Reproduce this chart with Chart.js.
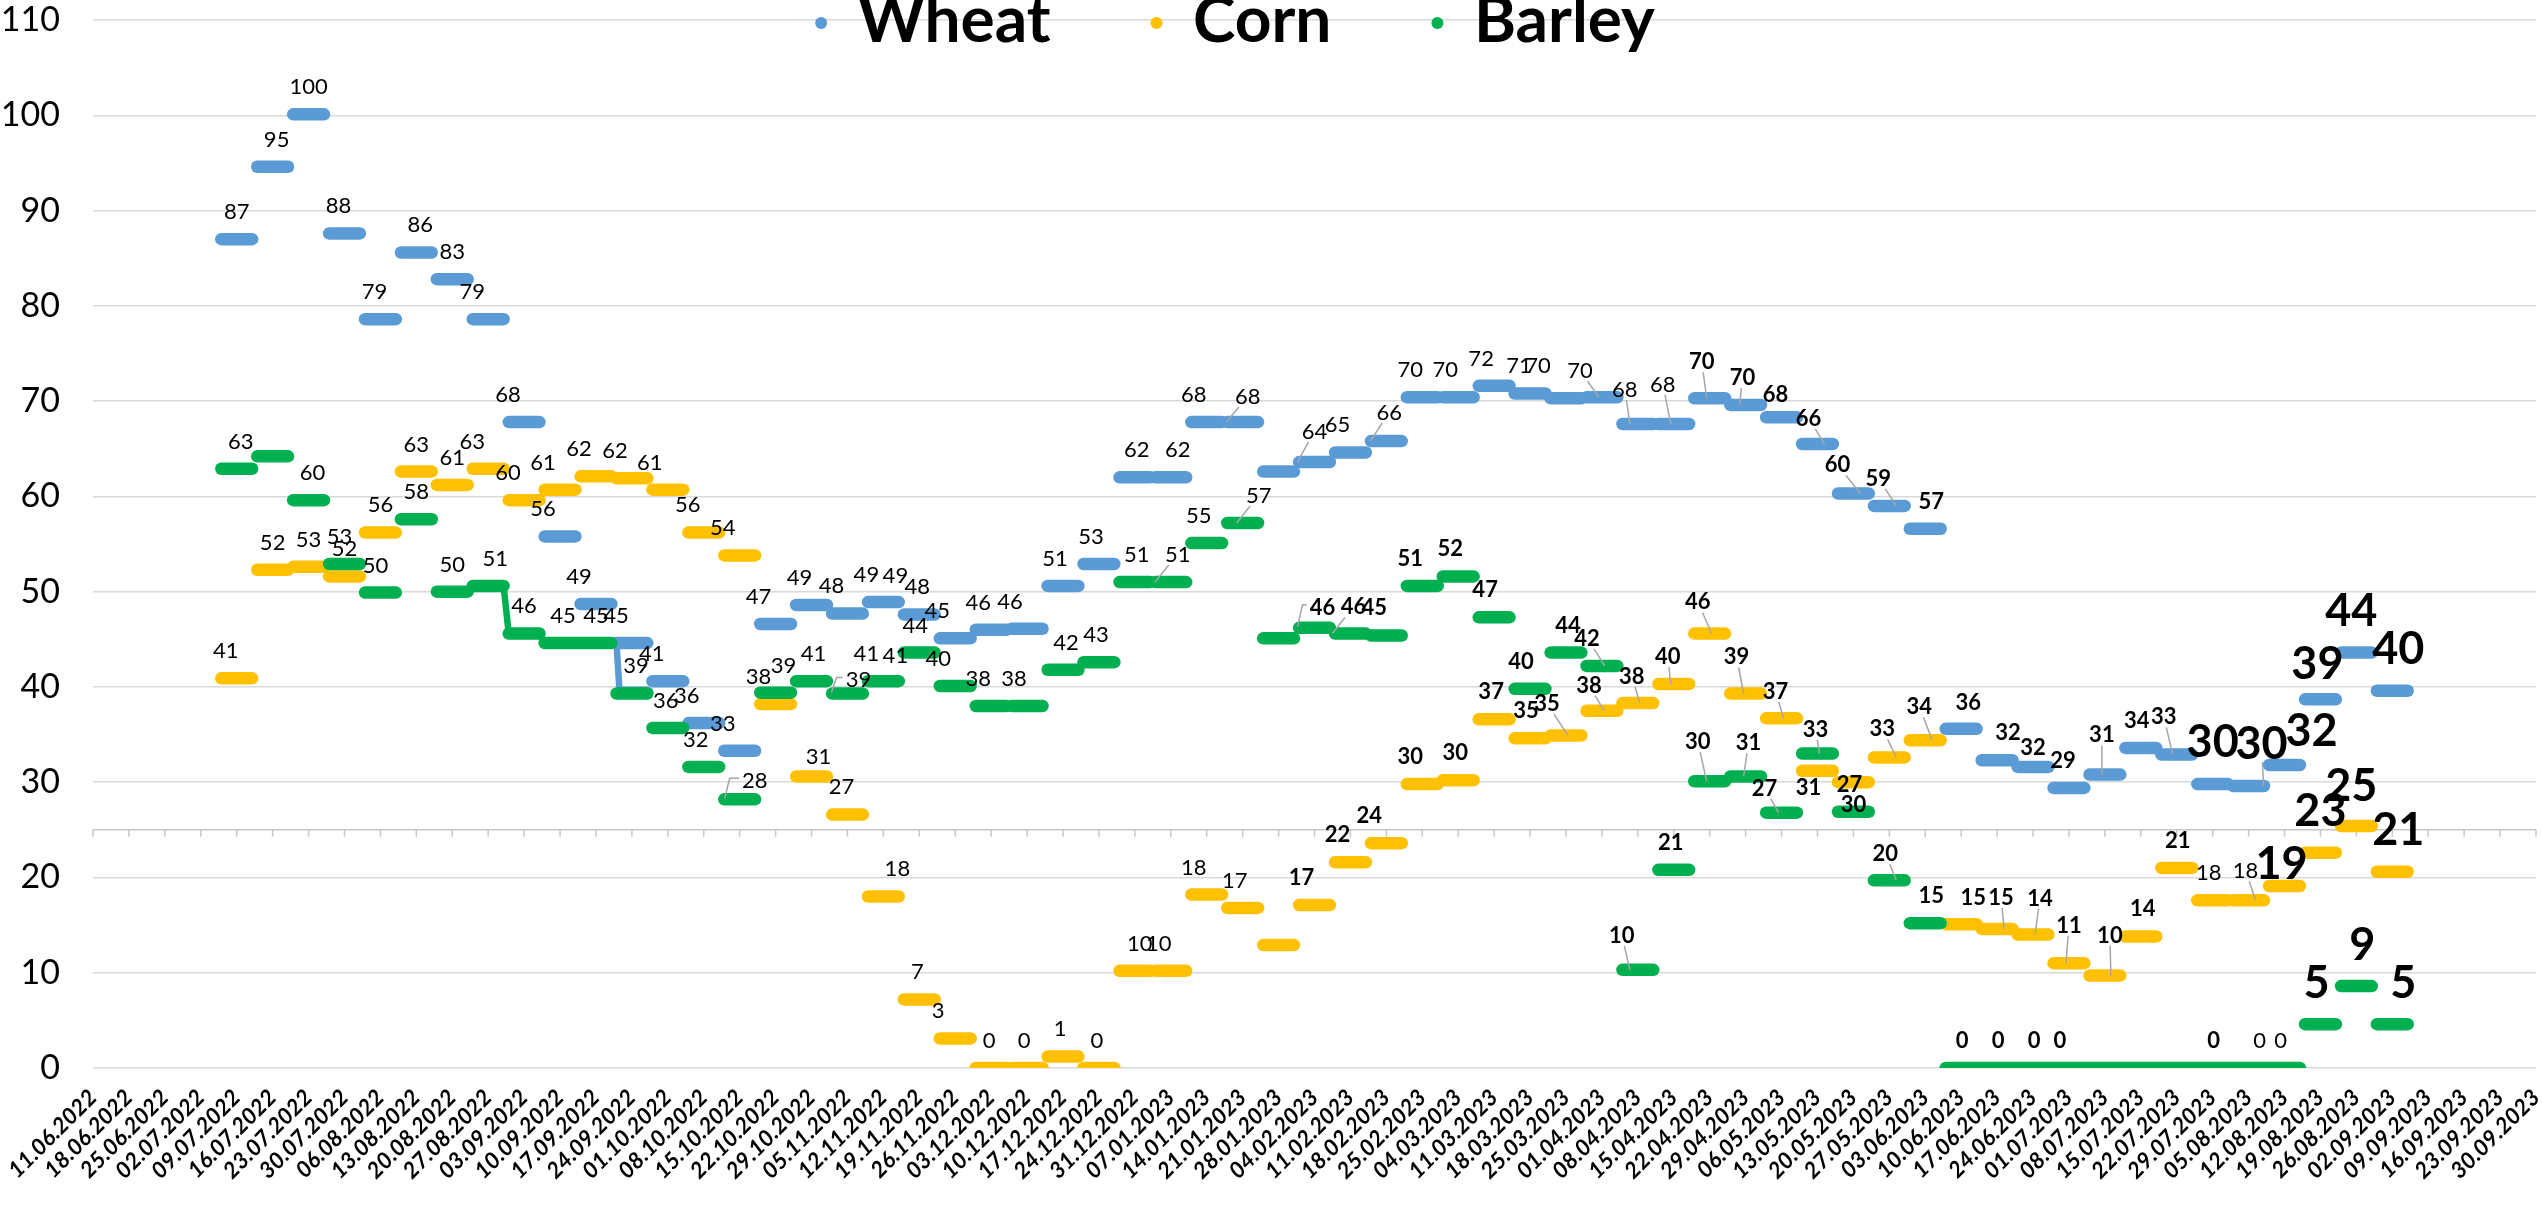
<!DOCTYPE html>
<html><head><meta charset="utf-8">
<script src="https://cdn.jsdelivr.net/npm/chart.js@4.4.1/dist/chart.umd.min.js"></script>
<style>html,body{margin:0;padding:0;background:#fff;overflow:hidden}canvas{display:block}</style>
</head><body>
<canvas id="c" width="2542" height="1218"></canvas>
<script>
// ---------- DATA ----------
const weeks = ['11.06.2022','18.06.2022','25.06.2022','02.07.2022','09.07.2022','16.07.2022','23.07.2022','30.07.2022','06.08.2022','13.08.2022','20.08.2022','27.08.2022','03.09.2022','10.09.2022','17.09.2022','24.09.2022','01.10.2022','08.10.2022','15.10.2022','22.10.2022','29.10.2022','05.11.2022','12.11.2022','19.11.2022','26.11.2022','03.12.2022','10.12.2022','17.12.2022','24.12.2022','31.12.2022','07.01.2023','14.01.2023','21.01.2023','28.01.2023','04.02.2023','11.02.2023','18.02.2023','25.02.2023','04.03.2023','11.03.2023','18.03.2023','25.03.2023','01.04.2023','08.04.2023','15.04.2023','22.04.2023','29.04.2023','06.05.2023','13.05.2023','20.05.2023','27.05.2023','03.06.2023','10.06.2023','17.06.2023','24.06.2023','01.07.2023','08.07.2023','15.07.2023','22.07.2023','29.07.2023','05.08.2023','12.08.2023','19.08.2023','26.08.2023','02.09.2023','09.09.2023','16.09.2023','23.09.2023','30.09.2023'];

const seriesNames = ['Wheat', 'Corn', 'Barley'];

const wheat = [null,null,null,null,
  87.0,94.6,100.1,87.6,78.6,85.6,82.8,78.6,67.8,55.8,48.7,44.6,40.6,36.2,33.3,46.6,48.6,47.7,48.9,47.6,45.1,46.0,46.1,50.6,52.9,
  62.0,62.0,67.8,67.8,62.6,63.6,64.6,65.8,70.4,70.4,71.6,70.8,70.3,70.4,67.6,67.6,70.3,69.6,68.3,65.5,60.3,59.0,56.6,
  35.6,32.3,31.6,29.4,30.8,33.6,32.9,29.8,29.6,31.8,38.7,43.6,39.6,
  null,null,null,null];

const corn = [null,null,null,null,
  40.9,52.3,52.6,51.6,56.2,62.6,61.2,62.9,59.6,60.7,62.1,61.9,60.7,56.2,53.8,38.2,30.6,26.6,18.0,7.2,3.1,0,0,1.2,0,
  10.2,10.2,18.2,16.8,12.9,17.1,21.6,23.6,29.8,30.2,36.6,34.6,34.9,37.5,38.3,40.3,45.6,39.3,36.7,31.2,30.0,32.6,34.4,
  15.1,14.6,14.0,11.0,9.7,13.8,21.0,17.6,17.6,19.1,22.6,25.4,20.6,
  null,null,null,null];

const barley = [null,null,null,null,
  62.9,64.2,59.6,52.9,49.9,57.6,50.0,50.6,45.6,44.6,44.6,39.3,35.7,31.6,28.2,39.4,40.6,39.3,40.6,43.6,40.1,38.0,38.0,41.8,42.6,
  51.0,51.0,55.1,57.2,45.1,46.2,45.6,45.4,50.6,51.6,47.3,39.8,43.6,42.2,10.3,20.8,30.1,30.6,26.8,33.0,26.9,19.7,15.2,
  0,0,0,0,0,0,0,0,0,0,4.6,8.6,4.6,
  null,null,null,null];

// weeks whose daily line continues from the previous week
const barleyJoined = ['03.09.2022','10.09.2022','17.09.2022','17.06.2023','24.06.2023','01.07.2023','08.07.2023','15.07.2023','22.07.2023','29.07.2023','05.08.2023','12.08.2023'];
// a one-day dip in the wheat line
const wheatDip = { week: '24.09.2022', value: 39.4 };
// horizontal axis line crosses the value axis here
const axisCross = 25;

// ---------- LABEL STYLE / PLACEMENT (kept apart from the data) ----------
// '.' none, 'n' normal, 'b' bold, 'H' large bold
const wheatLabelStyle  = '....' + 'n'.repeat(29) + '.' + 'n'.repeat(11) + 'b'.repeat(14) + 'H'.repeat(6) + '....';
const cornLabelStyle   = '....' + 'n'.repeat(29) + '.' + 'b'.repeat(25) + 'nn' + 'HHHH' + '....';
const barleyLabelStyle = '....' + 'n.' + 'n'.repeat(27) + '.' + 'b'.repeat(22) + '...' + 'bnn' + 'HHH' + '....';

// week index: [dx px, dy px above line, leader target dx px, leader kind]
const wheatLabelPos = {4:[0],5:[4],6:[0],7:[-6],8:[-6],9:[4],10:[0],11:[-16],12:[-16],13:[-17],14:[-17],15:[-16],16:[-16],17:[-17],18:[-17],
  19:[-17],20:[-12],21:[-16],22:[-17],23:[-2],24:[-18],25:[-13],26:[-17],27:[-8],28:[-8],29:[2],30:[7],31:[-13],32:[5,26,-16],
  34:[0,31,-17],35:[-13],36:[3,29,-16],37:[-12],38:[-13],39:[-13],40:[-11],41:[-28,33],42:[-22,27,-3],43:[-13,35,-8],44:[-11,40,-3],
  45:[-8,37,-3],46:[-3,28,-6],47:[-6,23],48:[-9,26,7],49:[-16,29,7],50:[-11,28,7],51:[6],52:[7,27],53:[11],54:[0,20],55:[-6],
  56:[-3,40,-3],57:[-4],58:[-13,38,-4],59:[0,43],60:[13,43,15],61:[27,35],62:[-3,36],63:[-5,43],64:[6,43]};
const cornLabelPos = {4:[-11],5:[0],6:[0],7:[0],8:[0],9:[0],10:[0],11:[-16],12:[-16],13:[-17],14:[-17],15:[-17],16:[-18],17:[-16],18:[-17],
  19:[-17],20:[7,20],21:[-6],22:[14],23:[-2],24:[-17],25:[-2],26:[-3],27:[-3],28:[-2],29:[5],30:[-12],31:[-13],32:[-8],
  34:[-13],35:[-13],36:[-17],37:[-12],38:[-3],39:[-3],40:[-4],41:[-19,32,2],42:[-13,26,2],43:[-6,27,2],44:[-6,28,-3],45:[-12,32,2],
  46:[-9,37,-2],47:[-6,27,2],48:[-9,-16],49:[0,-22],50:[-7,29,7],51:[-6,34,7],52:[12,27],53:[4,32,7],54:[7,37,2],55:[0,38,-3],
  56:[5,41,6],57:[2],58:[1],59:[-4],60:[-3,30,7],61:[-3,23],62:[0,43],63:[-5,41],64:[6,43]};
const barleyLabelPos = {4:[4],6:[4],7:[-5],8:[-5],9:[0],10:[0],11:[7],12:[0],13:[3],14:[0],15:[4],16:[-2],17:[-8],18:[15,19,-15,'b'],
  19:[8],20:[2],21:[11,14,-16,'b'],22:[-17],23:[-4],24:[-17],25:[-13],26:[-13],27:[3],28:[-3],29:[2],30:[7,28,-16],31:[-8],32:[16,28,-6],
  34:[8,21,-17,'b'],35:[3,27,-18],36:[-12],37:[-12],38:[-8],39:[-9],40:[-9],41:[2],42:[-15,28,3],43:[-16,35,-8],44:[-3],
  45:[-12,40,-3],46:[3,34,-2],47:[-17,25,-3],48:[-2,25,2],49:[-4],50:[-4,27,7],51:[6],52:[1],53:[1],54:[1],55:[-9],
  59:[1],60:[11],61:[-4],62:[-4,42],63:[6,42],64:[11,42]};
// second label on the last day of a week: [series, week index, dx, dy]
const extraLabels = [['Wheat',22,12,27],['Barley',22,12,26]];

const colors = { Wheat: '#5B9BD5', Corn: '#FFC000', Barley: '#00B050' };

// ---------- BUILD ----------
const HALF = 3; // each weekly value is held for the days around its date
function buildPoints(values, joined, dip) {
  const pts = [];
  for (let k = 0; k < values.length; k++) {
    const v = values[k];
    if (v == null) continue;
    const c = k * 7;
    const isJoined = joined && joined.includes(weeks[k]) && values[k - 1] != null;
    if (!isJoined && pts.length) pts.push({ x: c - HALF - 0.5, y: null });
    if (dip && dip.week === weeks[k]) {
      pts.push({ x: c + HALF, y: v }, { x: c - HALF, y: v }, { x: c - HALF + 0.6, y: dip.value }, { x: c + HALF, y: dip.value });
    } else {
      pts.push({ x: c - HALF, y: v }, { x: c + HALF, y: v });
    }
  }
  return pts;
}

const seriesData = { Wheat: wheat, Corn: corn, Barley: barley };
const labelStyles = { Wheat: wheatLabelStyle, Corn: cornLabelStyle, Barley: barleyLabelStyle };
const labelPos = { Wheat: wheatLabelPos, Corn: cornLabelPos, Barley: barleyLabelPos };

function makeDataset(name, order, joined, dip) {
  return {
    label: name,
    data: buildPoints(seriesData[name], joined, dip),
    borderColor: colors[name], backgroundColor: colors[name],
    borderWidth: 12.5, borderCapStyle: 'round', borderJoinStyle: 'round',
    pointRadius: 0, spanGaps: false, order: order,
    segment: { borderWidth: c => (c.p0.parsed.y === c.p1.parsed.y ? 12.5 : 6.5) }
  };
}

const crossAxisPlugin = {
  id: 'crossAxis',
  beforeDatasetsDraw(chart) {
    const { ctx, chartArea, scales: { x, y } } = chart;
    const yy = y.getPixelForValue(axisCross);
    ctx.save();
    ctx.strokeStyle = '#c8c8c8'; ctx.lineWidth = 1.5;
    ctx.beginPath();
    ctx.moveTo(chartArea.left, yy); ctx.lineTo(chartArea.right, yy);
    x.ticks.forEach(t => { const px = x.getPixelForValue(t.value); ctx.moveTo(px, yy); ctx.lineTo(px, yy + 7); });
    ctx.stroke();
    ctx.restore();
  }
};

function fontFor(code) { return code === 'H' ? { w: 'bold', s: 45 } : code === 'b' ? { w: 'bold', s: 22 } : { w: 'normal', s: 22 }; }

const valueLabelPlugin = {
  id: 'valueLabels',
  afterDatasetsDraw(chart) {
    const { ctx, scales: { x, y } } = chart;
    ctx.save();
    ctx.textAlign = 'center'; ctx.textBaseline = 'alphabetic';
    const draw = (name, k, p, code) => {
      const v = seriesData[name][k];
      const f = fontFor(code);
      const dx = p[0] || 0;
      const dy = p[1] != null ? p[1] : (code === 'H' ? 42 : 28);
      const tx = x.getPixelForValue(k * 7), sy = y.getPixelForValue(v);
      const lx = tx + dx, ly = sy - dy;
      const text = String(Math.round(v));
      ctx.font = `${f.w} ${f.s}px Lato`;
      const w = ctx.measureText(text).width, hh = f.s * 0.36;
      if (p[2] != null) {
        const gx = tx + p[2], gy = sy;
        ctx.strokeStyle = '#a6a6a6'; ctx.lineWidth = 1.5;
        ctx.beginPath();
        if (p[3] === 'b') {
          ctx.moveTo(lx - w / 2 - 3, ly - 2); ctx.lineTo(gx + 5, ly - 2); ctx.lineTo(gx, gy - 1);
        } else {
          const ddx = gx - lx, ddy = gy - ly;
          const t = Math.min(Math.abs(ddx) > 0.01 ? (w / 2 + 2) / Math.abs(ddx) : 1e9, Math.abs(ddy) > 0.01 ? (hh + 3) / Math.abs(ddy) : 1e9);
          if (t < 1) { ctx.moveTo(lx + ddx * t, ly + ddy * t); ctx.lineTo(gx, gy); }
        }
        ctx.stroke();
      }
      ctx.fillStyle = '#000';
      ctx.fillText(text, lx, ly + hh);
    };
    seriesNames.forEach(name => {
      const st = labelStyles[name], pos = labelPos[name], vals = seriesData[name];
      for (let k = 0; k < vals.length; k++) {
        const code = st[k];
        if (!code || code === '.' || vals[k] == null) continue;
        draw(name, k, pos[k] || [0], code);
      }
    });
    extraLabels.forEach(([name, k, dx, dy]) => draw(name, k, [dx, dy], labelStyles[name][k]));
    ctx.restore();
  }
};

const legendPlugin = {
  id: 'topLegend',
  afterDraw(chart) {
    const ctx = chart.ctx;
    ctx.save();
    ctx.font = 'bold 64px Lato';
    ctx.textBaseline = 'alphabetic'; ctx.textAlign = 'left';
    const r = 6, toText = 36.5, gap = 100, center = 1235, dotY = 23, baseY = 42;
    const widths = seriesNames.map(n => ctx.measureText(n).width);
    let total = 0;
    widths.forEach((w, i) => { total += (r + toText + w) + (i ? gap : 0); });
    let xx = center - total / 2;
    seriesNames.forEach((n, i) => {
      ctx.fillStyle = colors[n];
      ctx.beginPath(); ctx.arc(xx + r, dotY, r, 0, Math.PI * 2); ctx.fill();
      ctx.fillStyle = '#000';
      ctx.fillText(n, xx + r + toText, baseY);
      xx += r + toText + widths[i] + gap;
    });
    ctx.restore();
  }
};

function render() {
  new Chart(document.getElementById('c'), {
    type: 'line',
    data: {
      datasets: [
        makeDataset('Wheat', 3, null, wheatDip),
        makeDataset('Corn', 2, null, null),
        makeDataset('Barley', 1, barleyJoined, null)
      ]
    },
    options: {
      responsive: false, animation: false, events: [],
      layout: { padding: { top: 20, right: 6, left: 0, bottom: 0 } },
      plugins: { legend: { display: false }, tooltip: { enabled: false } },
      scales: {
        x: {
          type: 'linear', min: 0, max: (weeks.length - 1) * 7,
          ticks: {
            stepSize: 7, autoSkip: false, maxRotation: 45, minRotation: 45, padding: 16, color: '#000',
            font: { family: 'Lato', size: 22.5, style: 'italic', weight: 'bold' },
            callback: v => weeks[Math.round(v / 7)] || ''
          },
          grid: { display: false, drawTicks: false },
          border: { display: false },
          afterFit(s) { s.height = 150; s.paddingLeft = 0; s.paddingRight = 0; }
        },
        y: {
          min: 0, max: 110,
          ticks: { stepSize: 10, color: '#000', padding: 33, font: { family: 'Lato', size: 34 } },
          grid: { color: '#d9d9d9', lineWidth: 1.5, drawTicks: false },
          border: { display: false },
          afterFit(s) { s.width = 93; s.paddingTop = 0; s.paddingBottom = 0; }
        }
      }
    },
    plugins: [crossAxisPlugin, valueLabelPlugin, legendPlugin]
  });
}
Promise.all([
  document.fonts.load('bold 64px Lato'), document.fonts.load('22px Lato'),
  document.fonts.load('italic bold 22px Lato'), document.fonts.load('34px Lato')
]).then(render, render);
</script>
</body></html>
